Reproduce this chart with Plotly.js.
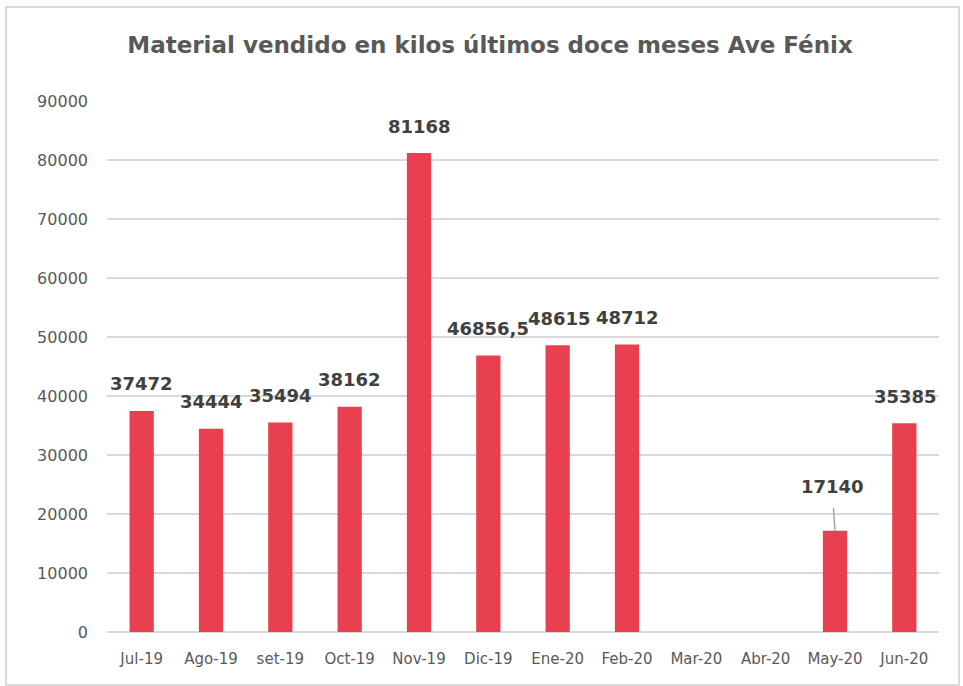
<!DOCTYPE html>
<html>
<head>
<meta charset="utf-8">
<script src="https://cdn.plot.ly/plotly-3.0.1.min.js"></script>
<style>
  html, body { margin: 0; padding: 0; background: #fff; }
  #wrap { position: relative; width: 963px; height: 686px; }
  #chart { position: absolute; left: 0; top: 0; width: 963px; height: 686px; }
  #frame { position: absolute; left: 5px; top: 6px; width: 951px; height: 676px;
           border: 2px solid #d9d9d9; pointer-events: none; }
</style>
</head>
<body>
<div id="wrap">
  <div id="chart"></div>
  <div id="frame"></div>
</div>
<script>
// ---- data ----
const months = ["Jul-19", "Ago-19", "set-19", "Oct-19", "Nov-19", "Dic-19",
                "Ene-20", "Feb-20", "Mar-20", "Abr-20", "May-20", "Jun-20"];
const kilos = [37472, 34444, 35494, 38162, 81168, 46856.5,
               48615, 48712, null, null, 17140, 35385];
const labelTexts = ["37472", "34444", "35494", "38162", "81168", "46856,5",
                    "48615", "48712", "", "", "17140", "35385"];
const yTicks = [0, 10000, 20000, 30000, 40000, 50000, 60000, 70000, 80000, 90000];

// ---- label placement (style, not data) ----
const labelDx = [0, 0, 0, 0, 0, 0, 2, 0, 0, 0, 0, 1];

const barColor = "#E8404F";
const labelFont = { family: "DejaVu Sans", size: 18, color: "#404040", weight: "bold" };

const annotations = [];
months.forEach((m, i) => {
  if (kilos[i] === null) return;
  if (m === "May-20") {
    annotations.push({
      x: m, y: kilos[i], xref: "x", yref: "y",
      text: "<b>" + labelTexts[i] + "</b>", font: labelFont,
      showarrow: true, arrowhead: 0, arrowwidth: 1.5, arrowcolor: "#a6a6a6",
      xshift: 0, ax: -3, ay: -44, startstandoff: 9, standoff: 0
    });
  } else {
    annotations.push({
      x: m, y: kilos[i], xref: "x", yref: "y",
      text: "<b>" + labelTexts[i] + "</b>", font: labelFont,
      showarrow: false, xshift: labelDx[i], yshift: 27, yanchor: "middle"
    });
  }
});

const trace = {
  type: "bar",
  x: months,
  y: kilos,
  marker: { color: barColor },
  hoverinfo: "x+y"
};

const layout = {
  width: 963, height: 686,
  paper_bgcolor: "#ffffff", plot_bgcolor: "#ffffff",
  margin: { l: 107, r: 24, t: 101, b: 54 },
  bargap: 0.65,
  showlegend: false,
  title: {
    text: "<b>Material vendido en kilos últimos doce meses Ave Fénix</b>",
    font: { family: "DejaVu Sans", size: 23, color: "#595959" },
    x: 490 / 963, xanchor: "center", xref: "container",
    y: 1 - 45 / 686, yanchor: "middle", yref: "container"
  },
  xaxis: {
    type: "category",
    categoryarray: months,
    tickfont: { family: "DejaVu Sans", size: 15, color: "#595959" },
    showgrid: false, zeroline: false, showline: false,
    ticks: "", ticklabelstandoff: 16,
    fixedrange: true
  },
  yaxis: {
    range: [0, 90000],
    tickvals: yTicks,
    ticktext: yTicks.map(String),
    tickfont: { family: "DejaVu Sans", size: 16, color: "#595959" },
    showgrid: true, gridcolor: "#d9d9d9", gridwidth: 2,
    zeroline: true, zerolinecolor: "#d9d9d9", zerolinewidth: 2,
    showline: false, ticks: "", ticklabelstandoff: 18,
    fixedrange: true
  },
  annotations: annotations
};

Plotly.newPlot("chart", [trace], layout, { displayModeBar: false, staticPlot: true });
</script>
</body>
</html>
